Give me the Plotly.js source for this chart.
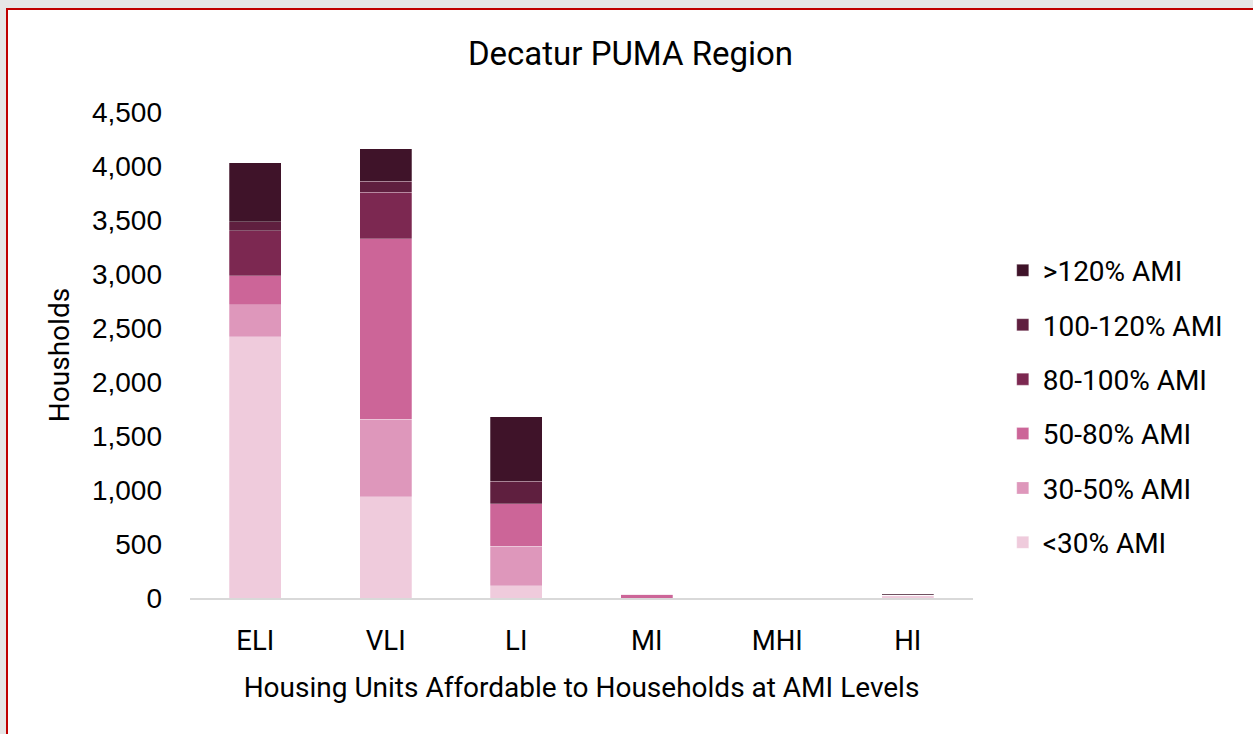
<!DOCTYPE html>
<html>
<head>
<meta charset="utf-8">
<script src="https://cdn.plot.ly/plotly-3.0.1.min.js"></script>
<style>
  html, body { margin: 0; padding: 0; background: #e6e6e6; width: 1253px; height: 734px; overflow: hidden; }
  #frame { position: absolute; left: 6px; top: 8px; width: 1247px; height: 726px; background: #ffffff;
           border-left: 2px solid #c00000; border-top: 2px solid #c00000; box-sizing: border-box; }
  #chart { position: absolute; left: 0; top: 0; width: 1245px; height: 724px; }
</style>
</head>
<body>
<div id="frame"><div id="chart"></div></div>
<script>
const categories = ['ELI', 'VLI', 'LI', 'MI', 'MHI', 'HI'];
const seriesNames = ['<30% AMI', '30-50% AMI', '50-80% AMI', '80-100% AMI', '100-120% AMI', '>120% AMI'];
const lt30     = [2418,  937, 114,  0, 0, 25];
const ami30_50 = [ 299,  716, 363,  0, 0,  0];
const ami50_80 = [ 265, 1675, 398, 37, 0,  0];
const ami80_100 = [417,  429,   0,  0, 0,  0];
const ami100_120 = [83,  101, 208,  0, 0,  0];
const gt120    = [ 546,  302, 597,  0, 0,  9];
const yTicks = [0, 500, 1000, 1500, 2000, 2500, 3000, 3500, 4000, 4500];

const values = [lt30, ami30_50, ami50_80, ami80_100, ami100_120, gt120];
const colors = ['#efcbdc', '#de97bb', '#cc6598', '#7c2851', '#5f1f3f', '#3f1329'];

const textFont = 'Roboto, "Noto Sans", sans-serif';
const numFont = '"Liberation Sans", Arial, sans-serif';

const traces = values.map((v, i) => ({
  type: 'bar',
  name: seriesNames[i],
  x: categories,
  y: v,
  legendgroup: 'g' + i,
  legendrank: 1000 - i,
  marker: { color: colors[i], line: { color: 'rgba(255,255,255,0.35)', width: 0.75 } },
  hoverinfo: 'x+y+name'
}));

const layout = {
  width: 1245, height: 724,
  barmode: 'stack',
  bargap: 0.6,
  paper_bgcolor: '#ffffff',
  plot_bgcolor: '#ffffff',
  margin: { l: 182, r: 280, t: 102, b: 136 },
  title: {
    text: 'Decatur PUMA Region',
    font: { family: textFont, size: 33, color: '#000000' },
    x: 0.5, xanchor: 'center', xref: 'container',
    y: 1 - 43 / 724, yanchor: 'middle', yref: 'container'
  },
  xaxis: {
    type: 'category',
    tickfont: { family: textFont, size: 27.5, color: '#000000' },
    showgrid: false, zeroline: false,
    showline: true, linecolor: '#d9d9d9', linewidth: 2,
    ticks: '', ticklabelstandoff: 17,
    title: { text: 'Housing Units Affordable to Households at AMI Levels',
             font: { family: textFont, size: 28, color: '#000000' }, standoff: 21 },
    automargin: false
  },
  yaxis: {
    range: [0, 4500],
    tickvals: yTicks,
    tickformat: ',d',
    tickfont: { family: numFont, size: 28, color: '#000000' },
    showgrid: false, zeroline: false, showline: false,
    ticks: '', ticklabelstandoff: 27,
    title: { text: 'Housholds', font: { family: textFont, size: 28, color: '#000000' }, standoff: 14 },
    automargin: false
  },
  showlegend: true,
  legend: {
    x: 1.038, xanchor: 'left', y: 0.725, yanchor: 'top',
    traceorder: 'grouped',
    tracegroupgap: 15,
    font: { family: textFont, size: 28, color: '#000000' },
    bgcolor: 'rgba(0,0,0,0)'
  }
};

Plotly.newPlot('chart', traces, layout, { displayModeBar: false, responsive: false });
</script>
</body>
</html>
